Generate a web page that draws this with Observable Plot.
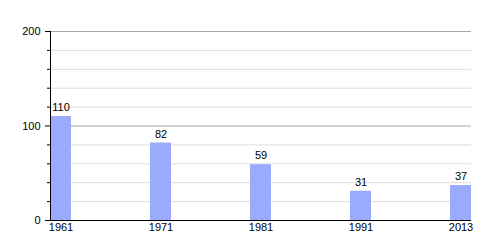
<!DOCTYPE html>
<html>
<head>
<meta charset="utf-8">
<script src="https://cdn.jsdelivr.net/npm/d3@7"></script>
<script src="https://cdn.jsdelivr.net/npm/@observablehq/plot@0.6"></script>
<style>
  html, body { margin: 0; padding: 0; background: #fff; }
  #chart svg { font-family: "Liberation Sans", Arial, sans-serif; }
</style>
</head>
<body>
<div id="chart"></div>
<script>
const years = ["1961", "1971", "1981", "1991", "2013"];
const values = [110, 82, 59, 31, 37];
const majorTicks = [0, 100, 200];
const minorTicks = [20, 40, 60, 80, 120, 140, 160, 180];

const data = years.map((year, i) => ({year, value: values[i]}));

const chart = Plot.plot({
  width: 500,
  height: 250,
  marginLeft: 50,
  marginRight: 29,
  marginTop: 31,
  marginBottom: 30,
  style: {fontFamily: "'Liberation Sans', Arial, sans-serif", fontSize: "11px", color: "#000", background: "#fff"},
  x: {domain: years, paddingInner: 0.79, paddingOuter: 0, label: null},
  y: {domain: [0, 200], label: null},
  marks: [
    Plot.ruleY(minorTicks, {stroke: "#dddddd", strokeWidth: 1}),
    Plot.ruleY([100, 200], {stroke: "#a8a8a8", strokeWidth: 1}),
    Plot.barY(data, {x: "year", y: "value", fill: "#9aabfd"}),
    Plot.text(data, {x: "year", y: "value", text: d => String(d.value), dy: -9, fill: "#000", fontSize: 11}),
    Plot.ruleY([0], {stroke: "#000", strokeWidth: 1}),
    Plot.frame({anchor: "left", stroke: "#000"}),
    Plot.axisY({ticks: minorTicks, tickSize: 3, text: null, stroke: "#000"}),
    Plot.axisY({ticks: majorTicks, tickSize: 5, tickPadding: 5, tickFormat: d => String(d), fontSize: 11, fill: "#000", stroke: "#000"}),
    Plot.axisX({tickSize: 0, tickPadding: 3, fontSize: 11, fill: "#000"})
  ]
});
document.getElementById("chart").appendChild(chart);
</script>
</body>
</html>
